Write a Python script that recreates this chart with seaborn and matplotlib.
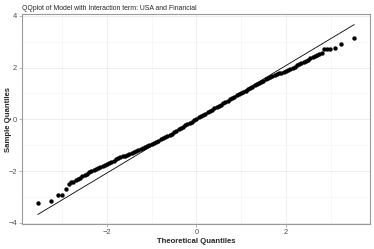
import matplotlib
matplotlib.use("Agg")
import matplotlib.pyplot as plt
import pandas as pd
import seaborn as sns

# Tail points read one by one
tail_x = [-3.55, -3.25, -3.10, -3.00, -2.92, -2.86, -2.80,
          2.86, 2.92, 2.98, 3.09, 3.24, 3.53]
tail_y = [-3.23, -3.15, -2.93, -2.91, -2.69, -2.50, -2.44,
          2.70, 2.72, 2.72, 2.76, 2.91, 3.14]

# Body of the curve, theoretical vs sample quantiles
body_x = [-2.75, -2.70, -2.65, -2.60, -2.55, -2.50, -2.45, -2.40, -2.35, -2.30,
          -2.25, -2.20, -2.15, -2.10, -2.05, -2.00, -1.95, -1.90, -1.85, -1.80,
          -1.75, -1.70, -1.65, -1.60, -1.55, -1.50, -1.45, -1.40, -1.35, -1.30,
          -1.25, -1.20, -1.15, -1.10, -1.05, -1.00, -0.95, -0.90, -0.85, -0.80,
          -0.75, -0.70, -0.65, -0.60, -0.55, -0.50, -0.45, -0.40, -0.35, -0.30,
          -0.25, -0.20, -0.15, -0.10, -0.05, 0.00, 0.05, 0.10, 0.15, 0.20,
          0.25, 0.30, 0.35, 0.40, 0.45, 0.50, 0.55, 0.60, 0.65, 0.70,
          0.75, 0.80, 0.85, 0.90, 0.95, 1.00, 1.05, 1.10, 1.15, 1.20,
          1.25, 1.30, 1.35, 1.40, 1.45, 1.50, 1.55, 1.60, 1.65, 1.70,
          1.75, 1.80, 1.85, 1.90, 1.95, 2.00, 2.05, 2.10, 2.15, 2.20,
          2.25, 2.30, 2.35, 2.40, 2.45, 2.50, 2.55, 2.60, 2.65, 2.70,
          2.75, 2.80]
body_y = [-2.41, -2.36, -2.31, -2.26, -2.21, -2.15, -2.10, -2.05, -2.00, -1.97,
          -1.92, -1.87, -1.84, -1.81, -1.77, -1.71, -1.67, -1.65, -1.61, -1.55,
          -1.50, -1.46, -1.43, -1.40, -1.37, -1.34, -1.31, -1.27, -1.23, -1.20,
          -1.16, -1.12, -1.08, -1.03, -0.99, -0.95, -0.91, -0.87, -0.82, -0.78,
          -0.74, -0.69, -0.65, -0.60, -0.55, -0.50, -0.45, -0.39, -0.34, -0.29,
          -0.24, -0.19, -0.14, -0.09, -0.03, 0.02, 0.07, 0.12, 0.17, 0.22,
          0.27, 0.31, 0.36, 0.42, 0.47, 0.52, 0.57, 0.62, 0.67, 0.72,
          0.77, 0.82, 0.87, 0.92, 0.97, 1.02, 1.07, 1.11, 1.16, 1.21,
          1.26, 1.31, 1.36, 1.40, 1.44, 1.49, 1.54, 1.59, 1.63, 1.66,
          1.70, 1.74, 1.77, 1.80, 1.84, 1.87, 1.90, 1.94, 1.98, 2.03,
          2.08, 2.12, 2.16, 2.21, 2.26, 2.30, 2.35, 2.39, 2.43, 2.48,
          2.52, 2.58]

# Reference line end points
line_x = [-3.55, 3.53]
line_y = [-3.68, 3.66]

df = pd.DataFrame({'theoretical': tail_x + body_x, 'sample': tail_y + body_y})
df_line = pd.DataFrame({'theoretical': line_x, 'sample': line_y})

sns.set_theme(style='whitegrid')
plt.rcParams['font.family'] = ['Liberation Sans', 'DejaVu Sans']

fig, ax = plt.subplots(figsize=(3.74, 2.49), dpi=100)
fig.subplots_adjust(left=0.059, right=0.989, bottom=0.100, top=0.944)

sns.lineplot(data=df_line, x='theoretical', y='sample', color='black',
             linewidth=0.6, ax=ax)
sns.scatterplot(data=df, x='theoretical', y='sample', color='black',
                s=10, linewidth=0, ax=ax)

ax.set_xlim(-3.90, 3.88)
ax.set_ylim(-4.05, 4.07)
ax.set_xticks([-2, 0, 2])
ax.set_yticks([-4, -2, 0, 2, 4])
ax.set_xticks([-3, -1, 1, 3], minor=True)
ax.set_yticks([-3, -1, 1, 3], minor=True)
ax.grid(which='major', color='#EBEBEB', linewidth=0.6)
ax.grid(which='minor', color='#F2F2F2', linewidth=0.4)
ax.set_axisbelow(True)
for s in ax.spines.values():
    s.set_color('#9A9A9A')
    s.set_linewidth(0.8)
ax.tick_params(axis='both', which='major', length=2, width=0.5,
               color='#9A9A9A', labelsize=5.4, labelcolor='#4D4D4D', pad=1.5,
               bottom=True, left=True)
ax.tick_params(which='minor', length=0)

ax.set_xlabel('Theoretical Quantiles', fontsize=5.6, fontweight='bold')
ax.set_ylabel('Sample Quantiles', fontsize=5.6, fontweight='bold')
ax.xaxis.set_label_coords(0.5, -0.065)
ax.yaxis.set_label_coords(-0.030, 0.5)
ax.set_title('QQplot of Model with Interaction term: USA and Financial',
             fontsize=4.95, loc='left', pad=3, x=0.0)

fig.savefig('out.png', dpi=100)
